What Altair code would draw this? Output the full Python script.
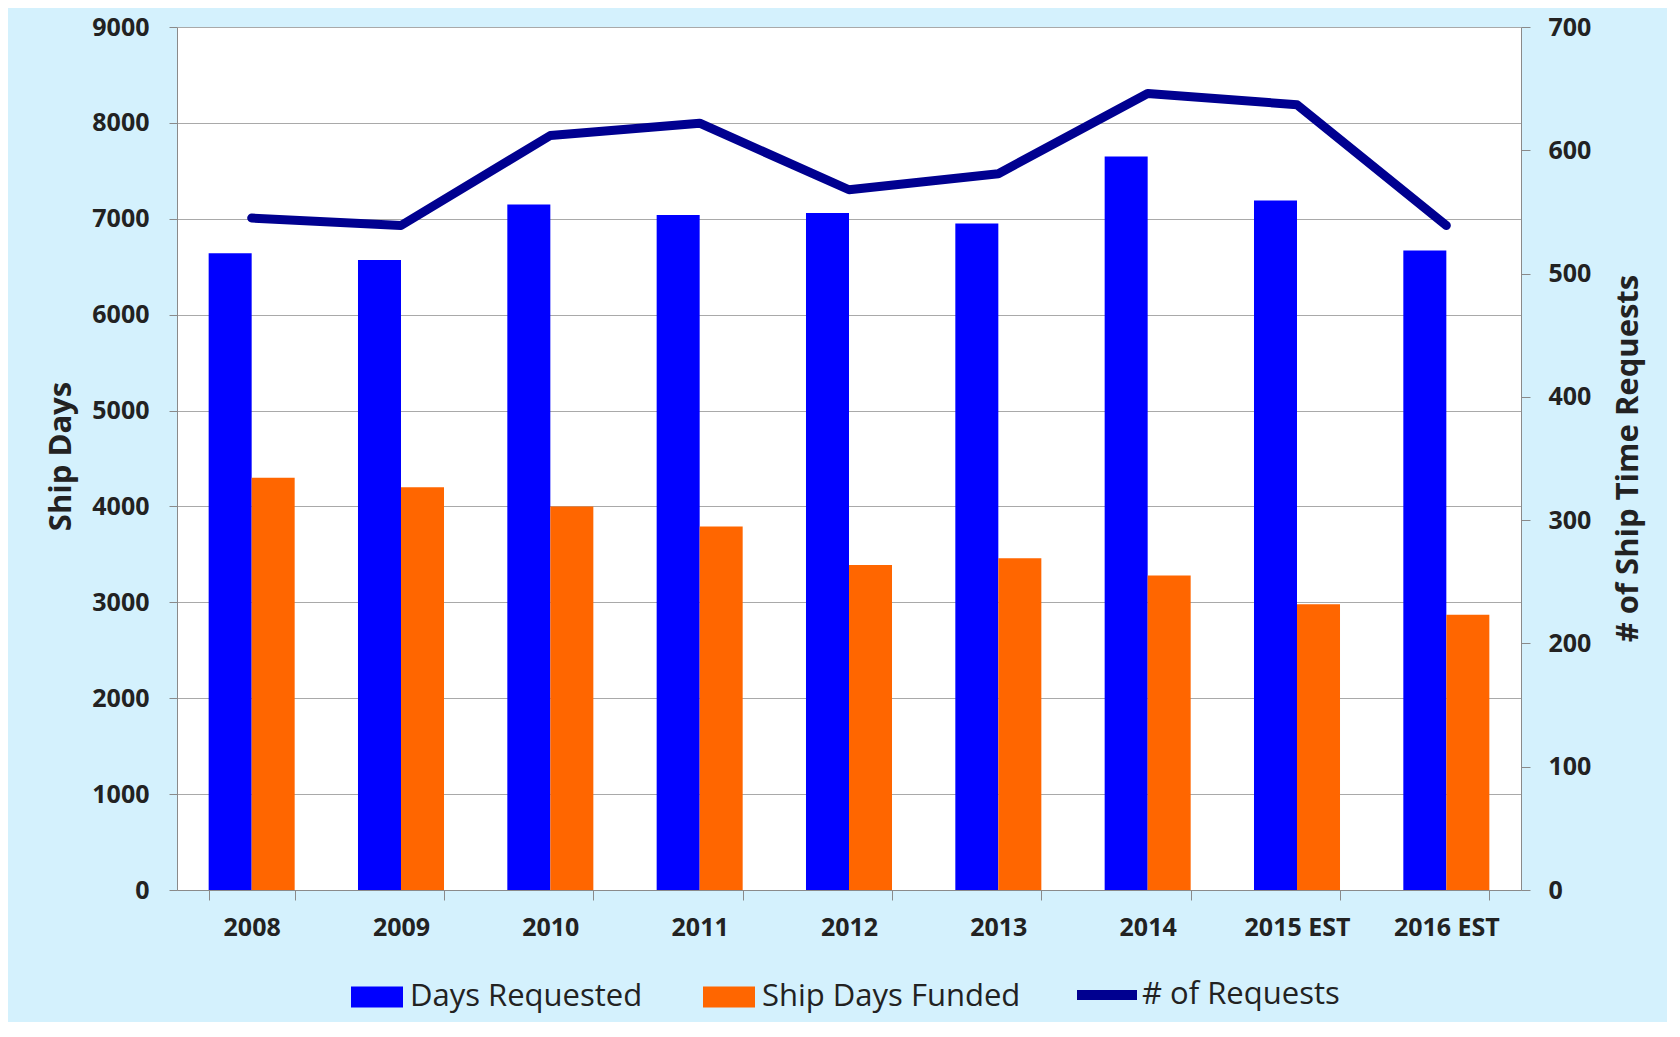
import altair as alt
import pandas as pd

years = ["2008", "2009", "2010", "2011", "2012", "2013", "2014", "2015 EST", "2016 EST"]
days_requested = [6640, 6570, 7150, 7040, 7060, 6950, 7650, 7190, 6670]
days_funded = [4300, 4200, 4000, 3790, 3390, 3460, 3280, 2980, 2870]
requests = [545, 539, 612, 622, 568, 581, 646, 637, 539]
bar_series = ["Days Requested", "Ship Days Funded"]
line_series = ["# of Requests"]
bar_colors = ["#0000FF", "#FF6600"]
line_color = "#000090"
left_ticks = list(range(0, 9001, 1000))
right_ticks = list(range(0, 701, 100))

bars_df = pd.DataFrame({
    "year": years * 2,
    "series": [bar_series[0]] * len(years) + [bar_series[1]] * len(years),
    "days": days_requested + days_funded,
})
line_df = pd.DataFrame({
    "year": years,
    "series2": line_series * len(years),
    "requests": requests,
})

W, H = 1344, 863
FONT = "Open Sans"
TXT = "#222222"
AX = "#8A8A8A"

xscale = alt.Scale(domain=years, paddingInner=0.424, paddingOuter=0.212)
x_axis = alt.Axis(
    title=None, labelAngle=0, labelFont=FONT, labelFontWeight="bold",
    labelFontSize=25, labelColor=TXT, labelPadding=15, tickBand="extent",
    tickSize=10, tickColor=AX, domainColor=AX, labelLimit=300,
)

bars = alt.Chart(bars_df).mark_bar().encode(
    x=alt.X("year:N", scale=xscale, axis=x_axis, sort=years),
    xOffset=alt.XOffset("series:N", sort=bar_series,
                        scale=alt.Scale(domain=bar_series, paddingInner=0, paddingOuter=0)),
    y=alt.Y("days:Q", scale=alt.Scale(domain=[0, 9000], nice=False),
            axis=alt.Axis(values=left_ticks, format="d", title="Ship Days", grid=True,
                          gridColor="#A9A9A9", gridWidth=1, tickSize=8, tickColor=AX,
                          domainColor=AX, labelFont=FONT, labelFontWeight="bold",
                          labelFontSize=25, labelColor=TXT, labelPadding=20,
                          titleFont=FONT, titleFontWeight="bold", titleFontSize=31,
                          titleColor=TXT, titleAngle=270, titleX=-116, titleY=429,
                          titleAlign="center", titleBaseline="middle")),
    color=alt.Color("series:N", scale=alt.Scale(domain=bar_series, range=bar_colors),
                    legend=alt.Legend(title=None, orient="none", legendX=174, legendY=944,
                                      direction="horizontal",
                                      symbolType="M-1,-0.404H1V0.404H-1Z",
                                      symbolSize=2704, symbolStrokeWidth=0,
                                      labelFont=FONT, labelFontSize=31, labelColor=TXT,
                                      labelOffset=7, columnPadding=60, padding=0,
                                      labelLimit=400)),
)

line = alt.Chart(line_df).mark_line(strokeWidth=9, strokeCap="round", strokeJoin="round").encode(
    x=alt.X("year:N", scale=xscale, axis=x_axis, sort=years),
    y=alt.Y("requests:Q", scale=alt.Scale(domain=[0, 700], nice=False),
            axis=alt.Axis(orient="right", values=right_ticks, format="d", grid=False,
                          title="# of Ship Time Requests", tickSize=9, tickColor=AX,
                          domainColor=AX, labelFont=FONT, labelFontWeight="bold",
                          labelFontSize=25, labelColor=TXT, labelPadding=18,
                          titleFont=FONT, titleFontWeight="bold", titleFontSize=31,
                          titleColor=TXT, titleAngle=270, titleX=107, titleY=431,
                          titleAlign="center", titleBaseline="middle")),
    color=alt.Color("series2:N", scale=alt.Scale(domain=line_series, range=[line_color]),
                    legend=alt.Legend(title=None, orient="none", legendX=895, legendY=933,
                                      direction="horizontal", symbolType="stroke",
                                      symbolSize=3600, symbolStrokeWidth=10,
                                      labelFont=FONT, labelFontSize=31, labelColor=TXT,
                                      labelOffset=0, padding=0, labelLimit=400)),
)

chart = alt.layer(bars, line).resolve_scale(
    y="independent", color="independent"
).properties(
    width=W, height=H,
    padding={"left": 169, "top": 19, "right": 146, "bottom": 132},
    autosize=alt.AutoSizeParams(type="none"),
).configure(
    background="#D4F1FD",
).configure_view(
    fill="white", stroke=None,
)

chart.save("out.html", embed_options={"renderer": "svg", "actions": False})
